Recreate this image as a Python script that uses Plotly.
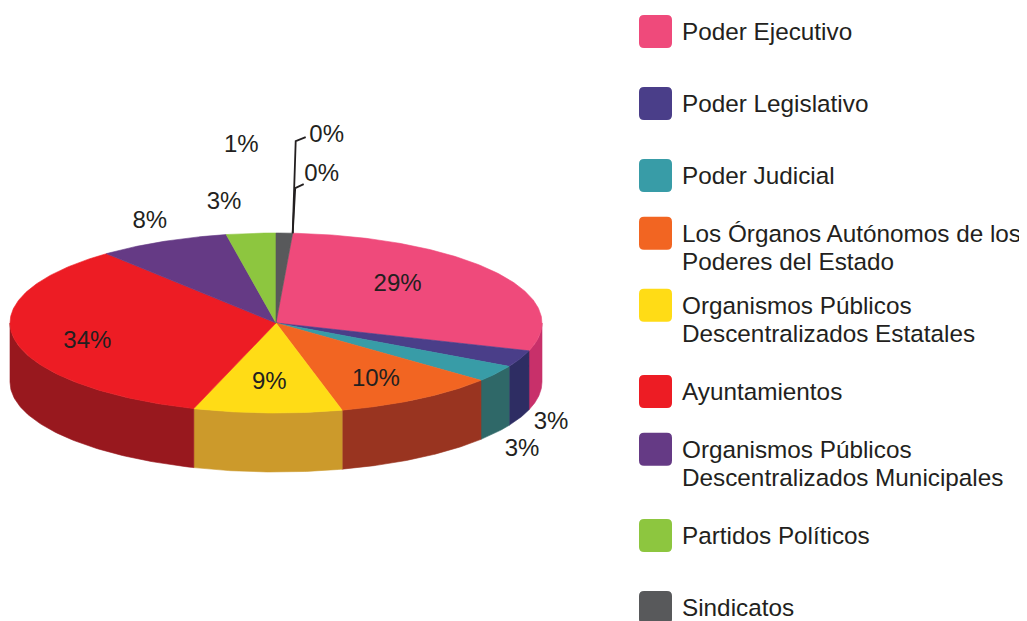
import numpy as np
import plotly.graph_objects as go

# ---------------- data ----------------
categories = [
    "Poder Ejecutivo",
    "Poder Legislativo",
    "Poder Judicial",
    "Los Órganos Autónomos de los<br>Poderes del Estado",
    "Organismos Públicos<br>Descentralizados Estatales",
    "Ayuntamientos",
    "Organismos Públicos<br>Descentralizados Municipales",
    "Partidos Políticos",
    "Sindicatos",
    "Fideicomisos y Fondos Públicos",
    "Personas Físicas y Morales",
]
values = [29, 3, 3, 10, 9, 34, 8, 3, 1, 0, 0]

# ---------------- styles ----------------
top_colors = ["#EF4A7B", "#4A3E89", "#389CA7", "#F26522", "#FFDC16",
              "#ED1C24", "#653A85", "#8DC63F", "#58595B", "#A7A9AC", "#D1D3D4"]
side_colors = ["#C8306A", "#2E2D63", "#2F6868", "#993420", "#CC9A2B",
               "#98181E", "#4A2A63", "#6A9530", "#3E3F41", "#7F8184", "#A0A2A4"]
# label placement: (anchor kind, radius factor, dx, dy) in pixels
label_place = [
    ("top", 0.68, -28, -4),
    ("bottom", 1.0, 31, 5),
    ("bottom", 1.0, 26, 17),
    ("top", 0.68, 3, 5),
    ("top", 0.68, -1, -1),
    ("top", 0.68, -11, 8),
    ("top", 1.0, -13, -20),
    ("top", 1.0, -27, -30),
    ("top", 1.0, -43, -87),
    ("top", 1.0, 29, -58),
    ("top", 1.0, 34, -97),
]
# leader line bends for labels placed far from slice (relative pixels)
leaders = {9: [(0, 0), (2.5, -45), (11, -49)],
           10: [(0, 0), (3, -92), (13, -96)]}

W, H = 1027, 621          # browser window
PAGE_MARGIN = 8           # default body margin of the html page
CX, CY, RX, RY, DEPTH = 276, 323, 266, 90, 59
START_DEG = 3.6
FONT = "Liberation Sans, Arial, sans-serif"
TXT = "#231F20"

total = sum(values)
angles = [START_DEG]
for v in values:
    angles.append(angles[-1] + 360.0 * v / total)


def rim(t_deg, r=1.0, dz=0.0):
    t = np.radians(t_deg)
    return CX + r * RX * np.sin(t), CY - r * RY * np.cos(t) + dz


fig = go.Figure()

# side walls (front half: 90..270 deg)
for i, v in enumerate(values):
    if v <= 0:
        continue
    t0, t1 = angles[i], angles[i + 1]
    for shift in (0, 360, -360):
        a0, a1 = max(t0 + shift, 90), min(t1 + shift, 270)
        if a1 > a0:
            ts = np.linspace(a0, a1, 80)
            xt, yt = rim(ts)
            xb, yb = rim(ts[::-1], dz=DEPTH)
            xs = np.concatenate([xt, xb, xt[:1]])
            ys = np.concatenate([yt, yb, yt[:1]])
            fig.add_trace(go.Scatter(x=xs, y=ys, mode="lines", fill="toself",
                                     fillcolor=side_colors[i],
                                     line=dict(color=side_colors[i], width=0.6),
                                     hoverinfo="skip", showlegend=False))

# top faces
for i, v in enumerate(values):
    if v <= 0:
        continue
    ts = np.linspace(angles[i], angles[i + 1], max(4, int(v * 6)))
    xa, ya = rim(ts)
    xs = np.concatenate([[CX], xa, [CX]])
    ys = np.concatenate([[CY], ya, [CY]])
    fig.add_trace(go.Scatter(x=xs, y=ys, mode="lines", fill="toself",
                             fillcolor=top_colors[i],
                             line=dict(color=top_colors[i], width=0.6),
                             name=categories[i].replace("<br>", " "),
                             hoverinfo="name", showlegend=False))

# leader lines
for i, pts in leaders.items():
    x0, y0 = rim(angles[i])
    fig.add_trace(go.Scatter(x=[x0 + p[0] for p in pts], y=[y0 + p[1] for p in pts],
                             mode="lines", line=dict(color="#231F20", width=1.8),
                             hoverinfo="skip", showlegend=False))

# percentage labels
lx, ly, lt = [], [], []
for i, v in enumerate(values):
    kind, r, dx, dy = label_place[i]
    mid = (angles[i] + angles[i + 1]) / 2
    x, y = rim(mid, r=r, dz=DEPTH if kind == "bottom" else 0)
    lx.append(x + dx)
    ly.append(y + dy)
    lt.append(f"{v / total * 100:.0f}%")
fig.add_trace(go.Scatter(x=lx, y=ly, text=lt, mode="text", textposition="middle center",
                         textfont=dict(family=FONT, size=24, color=TXT),
                         hoverinfo="skip", showlegend=False))

# legend (custom, uniform 72 px pitch)
shapes = []
annotations = []
LEG_X, SW, ROW0, PITCH, LINE, TEXT_X = 639, 33, 31.5, 72, 28.5, 680
for i, name in enumerate(categories):
    yc = ROW0 + PITCH * i
    lines = name.split("<br>")
    first = yc - LINE / 2 * (len(lines) - 1)
    if first - SW / 2 > H:
        continue
    x0, x1, y0, y1, rr = LEG_X, LEG_X + SW, first - SW / 2, first + SW / 2, 5
    path = (f"M{x0+rr},{y0} L{x1-rr},{y0} Q{x1},{y0} {x1},{y0+rr} L{x1},{y1-rr} "
            f"Q{x1},{y1} {x1-rr},{y1} L{x0+rr},{y1} Q{x0},{y1} {x0},{y1-rr} "
            f"L{x0},{y0+rr} Q{x0},{y0} {x0+rr},{y0} Z")
    shapes.append(dict(type="path", path=path, xref="x", yref="y",
                       fillcolor=top_colors[i], line=dict(width=0), layer="above"))
    for k, ln in enumerate(lines):
        annotations.append(dict(x=TEXT_X, y=first + LINE * k, xref="x", yref="y",
                                text=ln, showarrow=False, xanchor="left", yanchor="middle",
                                font=dict(family=FONT, size=24.3, color=TXT)))

fig.update_layout(
    width=W - PAGE_MARGIN, height=H - PAGE_MARGIN,
    margin=dict(l=0, r=0, t=0, b=0),
    paper_bgcolor="white", plot_bgcolor="white",
    xaxis=dict(range=[PAGE_MARGIN, W], visible=False, fixedrange=True),
    yaxis=dict(range=[H, PAGE_MARGIN], visible=False, fixedrange=True),
    shapes=shapes, annotations=annotations,
    showlegend=False,
)

fig.write_html("out.html")
